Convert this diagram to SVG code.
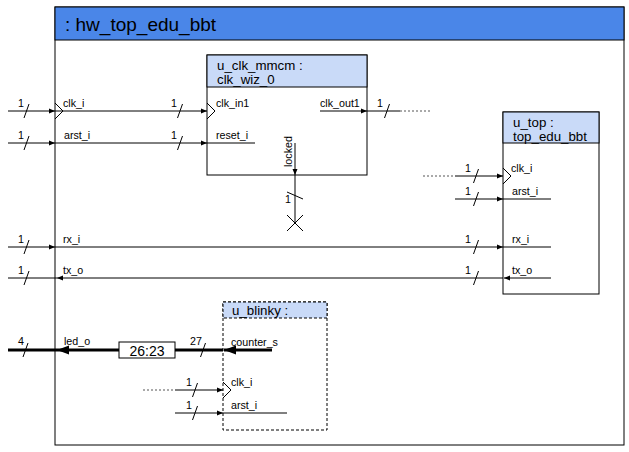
<svg xmlns="http://www.w3.org/2000/svg" width="629" height="452" viewBox="0 0 629 452">
<style>
text{font-family:"Liberation Sans",Arial,sans-serif;fill:#000}
.title{font-size:19px}
.hdr{font-size:13.3px}
.big{font-size:14px}
.lbl{font-size:10.7px}
.box{fill:#fff;stroke:#000;stroke-width:1}
.dbox{fill:#fff;stroke:#000;stroke-width:1;stroke-dasharray:3,2}
.h1{fill:#4a86e8;stroke:#000;stroke-width:1}
.h2{fill:#c9daf8;stroke:#000;stroke-width:1}
.h2d{fill:#c9daf8;stroke:#000;stroke-width:1;stroke-dasharray:3,2}
.w{fill:none;stroke:#000;stroke-width:1}
.a{fill:none;stroke:#000;stroke-width:1;marker-end:url(#arr)}
.tw{fill:none;stroke:#000;stroke-width:3}
.ta{fill:none;stroke:#000;stroke-width:3;marker-end:url(#tarr)}
.dot{fill:none;stroke:#555;stroke-width:1;stroke-dasharray:2,2}
.clk{fill:none;stroke:#000;stroke-width:1}
</style>
<defs>
<marker id="arr" markerUnits="userSpaceOnUse" markerWidth="6" markerHeight="6" refX="6" refY="3" orient="auto"><path d="M0,0.5 L6,3 L0,5.5 z" fill="#000"/></marker>
<marker id="tarr" markerUnits="userSpaceOnUse" markerWidth="12" markerHeight="10" refX="12" refY="5" orient="auto"><path d="M0,0.5 L12,5 L0,9.5 z" fill="#000"/></marker>
<path id="sl" d="M2.5,-7 L-2.5,7" fill="none" stroke="#000" stroke-width="1"/>
</defs>

<g id="hw_top_edu_bbt">
<rect class="box" x="55" y="7" width="569" height="438"/>
<rect class="h1" x="55" y="7" width="569" height="33"/>
<text class="title" x="65" y="31">: hw_top_edu_bbt</text>
<polyline class="clk" points="55,103 63,111 55,119"/>
<text class="lbl" x="63" y="107">clk_i</text>
<text class="lbl" x="64" y="139">arst_i</text>
<text class="lbl" x="63" y="243">rx_i</text>
<text class="lbl" x="63" y="274">tx_o</text>
<text class="lbl" x="64" y="345">led_o</text>
</g>

<g id="u_clk_mmcm">
<rect class="box" x="207" y="55" width="160" height="120"/>
<rect class="h2" x="207" y="55" width="160" height="32"/>
<text class="hdr" x="217" y="70">u_clk_mmcm :</text>
<text class="hdr" x="217" y="84">clk_wiz_0</text>
<polyline class="clk" points="207,103 215,111 207,119"/>
<text class="lbl" x="216" y="107">clk_in1</text>
<text class="lbl" x="216" y="139">reset_i</text>
<text class="lbl" x="320" y="107">clk_out1</text>
<text class="lbl" transform="translate(292,167) rotate(-90)">locked</text>
</g>

<g id="u_top">
<rect class="box" x="503" y="112" width="96" height="182"/>
<rect class="h2" x="503" y="112" width="96" height="31"/>
<text class="hdr" x="513" y="127">u_top :</text>
<text class="hdr" x="513" y="141">top_edu_bbt</text>
<polyline class="clk" points="503,168 511,176 503,184"/>
<text class="lbl" x="511" y="172">clk_i</text>
<text class="lbl" x="512" y="195">arst_i</text>
<text class="lbl" x="512" y="243">rx_i</text>
<text class="lbl" x="512" y="274">tx_o</text>
</g>

<g id="u_blinky">
<rect class="dbox" x="223" y="302" width="104" height="128"/>
<rect class="h2d" x="223" y="302" width="104" height="16"/>
<text class="hdr" x="232" y="315">u_blinky :</text>
<polyline class="clk" points="223,382 231,390 223,398"/>
<text class="lbl" x="231" y="346">counter_s</text>
<text class="lbl" x="231" y="386">clk_i</text>
<text class="lbl" x="231" y="409">arst_i</text>
</g>

<g id="slice_26_23">
<rect class="box" x="119" y="342" width="56" height="16"/>
<text class="big" x="147" y="355.5" text-anchor="middle">26:23</text>
</g>

<g id="connectors">
<path class="a" d="M8,111 H55"/>
<path class="a" d="M55,111 H207"/>
<use href="#sl" x="26.5" y="111"/>
<use href="#sl" x="180" y="111"/>
<text class="lbl" x="18" y="107">1</text>
<text class="lbl" x="171" y="107">1</text>
<path class="a" d="M8,143 H55"/>
<path class="a" d="M55,143 H207"/>
<path class="w" d="M207,143 H255"/>
<use href="#sl" x="26.5" y="143"/>
<use href="#sl" x="180" y="143"/>
<text class="lbl" x="18" y="139">1</text>
<text class="lbl" x="171" y="139">1</text>
<path class="a" d="M320,111 H367"/>
<path class="w" d="M367,111 H400"/>
<path class="dot" d="M400,111 H432"/>
<use href="#sl" x="387" y="111"/>
<text class="lbl" x="377" y="107">1</text>
<path class="a" d="M295,143 V175"/>
<path class="w" d="M295,175 V223"/>
<path class="w" d="M287,192 L303,199"/>
<text class="lbl" x="285" y="203">1</text>
<path class="w" d="M287,215 L303,231 M303,215 L287,231"/>
<path class="dot" d="M423,176 H455"/>
<path class="a" d="M455,176 H503"/>
<use href="#sl" x="476" y="176"/>
<text class="lbl" x="465" y="172">1</text>
<path class="a" d="M455,199 H503"/>
<path class="w" d="M503,199 H551"/>
<use href="#sl" x="476" y="199"/>
<text class="lbl" x="465" y="195">1</text>
<path class="a" d="M8,247 H55"/>
<path class="a" d="M55,247 H503"/>
<path class="w" d="M503,247 H551"/>
<use href="#sl" x="26.5" y="247"/>
<use href="#sl" x="476" y="247"/>
<text class="lbl" x="18" y="243">1</text>
<text class="lbl" x="465" y="243">1</text>
<path class="a" d="M551,278 H504"/>
<path class="a" d="M503,278 H57"/>
<path class="w" d="M57,278 H8"/>
<use href="#sl" x="26.5" y="278"/>
<use href="#sl" x="476" y="278"/>
<text class="lbl" x="18" y="274">1</text>
<text class="lbl" x="465" y="274">1</text>
<path class="ta" d="M272,350 H224"/>
<path class="tw" d="M223,350 H175"/>
<path class="ta" d="M119,350 H57"/>
<path class="tw" d="M57,350 H8"/>
<use href="#sl" x="203" y="350"/>
<use href="#sl" x="25.5" y="350"/>
<text class="lbl" x="190" y="345">27</text>
<text class="lbl" x="18" y="345">4</text>
<path class="dot" d="M143,390 H175"/>
<path class="a" d="M175,390 H223"/>
<use href="#sl" x="195" y="390"/>
<text class="lbl" x="186" y="386">1</text>
<path class="a" d="M175,413 H223"/>
<path class="w" d="M223,413 H287"/>
<use href="#sl" x="195" y="413"/>
<text class="lbl" x="186" y="409">1</text>
</g>
</svg>
